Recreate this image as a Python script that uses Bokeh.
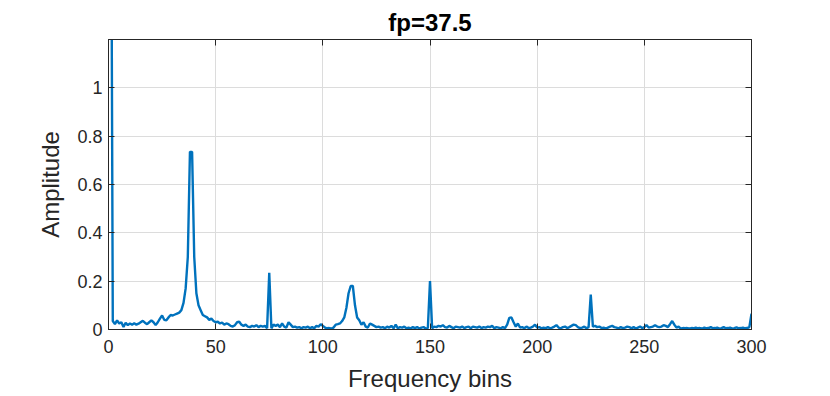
from bokeh.plotting import figure
from bokeh.models import Range1d, LinearAxis, FixedTicker
from bokeh.embed import file_html
from bokeh.resources import INLINE

title_text = "fp=37.5"
x_label = "Frequency bins"
y_label = "Amplitude"
x_ticks = [0, 50, 100, 150, 200, 250, 300]
y_ticks = [0, 0.2, 0.4, 0.6, 0.8, 1]
y_tick_labels = ["0", "0.2", "0.4", "0.6", "0.8", "1"]
bins = list(range(1, 301))
amplitude = [
    2.5, 0.035, 0.022, 0.038, 0.025, 0.03, 0.01, 0.028, 0.018, 0.025,
    0.02, 0.026, 0.02, 0.024, 0.03, 0.036, 0.028, 0.022, 0.03, 0.038,
    0.03, 0.018, 0.03, 0.045, 0.058, 0.04, 0.038, 0.05, 0.06, 0.058,
    0.062, 0.066, 0.07, 0.08, 0.11, 0.17, 0.3, 0.735, 0.735, 0.3,
    0.15, 0.1, 0.08, 0.06, 0.055, 0.05, 0.04, 0.045, 0.035, 0.03,
    0.032, 0.025, 0.028, 0.02, 0.025, 0.022, 0.015, 0.012, 0.018, 0.03,
    0.032, 0.02, 0.015, 0.02, 0.012, 0.01, 0.015, 0.012, 0.018, 0.01,
    0.015, 0.012, 0.015, 0.005, 0.235, 0.005, 0.02, 0.015, 0.02, 0.01,
    0.025, 0.012, 0.008, 0.03, 0.02, 0.01, 0.012, 0.008, 0.01, 0.005,
    0.01, 0.008, 0.012, 0.005, 0.01, 0.005, 0.015, 0.012, 0.022, 0.015,
    0.008, 0.005, 0.006, 0.004, 0.008, 0.02, 0.022, 0.025, 0.035, 0.05,
    0.09, 0.15, 0.18, 0.18, 0.1, 0.05, 0.038, 0.02, 0.03, 0.012,
    0.008, 0.025, 0.02, 0.015, 0.01, 0.012, 0.008, 0.01, 0.005, 0.012,
    0.008, 0.015, 0.005, 0.02, 0.005, 0.01, 0.008, 0.012, 0.005, 0.008,
    0.005, 0.01, 0.006, 0.01, 0.004, 0.008, 0.01, 0.004, 0.006, 0.2,
    0.005, 0.012, 0.01, 0.015, 0.012, 0.018, 0.01, 0.008, 0.015, 0.01,
    0.005, 0.012, 0.01, 0.008, 0.012, 0.006, 0.01, 0.012, 0.005, 0.012,
    0.01, 0.008, 0.012, 0.006, 0.01, 0.008, 0.012, 0.01, 0.015, 0.005,
    0.01, 0.008, 0.005, 0.01, 0.006, 0.02, 0.048, 0.05, 0.03, 0.012,
    0.025, 0.008, 0.01, 0.005, 0.012, 0.006, 0.008, 0.012, 0.02, 0.008,
    0.01, 0.005, 0.008, 0.006, 0.01, 0.005, 0.008, 0.012, 0.018, 0.008,
    0.005, 0.01, 0.012, 0.006, 0.01, 0.015, 0.02, 0.018, 0.01, 0.006,
    0.008, 0.012, 0.005, 0.01, 0.145, 0.012, 0.015, 0.01, 0.012, 0.006,
    0.008, 0.004, 0.008, 0.012, 0.015, 0.01, 0.008, 0.005, 0.01, 0.006,
    0.008, 0.012, 0.01, 0.005, 0.01, 0.004, 0.008, 0.012, 0.006, 0.01,
    0.018, 0.008, 0.01, 0.012, 0.018, 0.012, 0.01, 0.012, 0.018, 0.015,
    0.01, 0.022, 0.035, 0.02, 0.008, 0.012, 0.004, 0.006, 0.005, 0.006,
    0.004, 0.006, 0.005, 0.008, 0.005, 0.006, 0.004, 0.008, 0.005, 0.006,
    0.01, 0.005, 0.006, 0.008, 0.004, 0.006, 0.01, 0.005, 0.006, 0.008,
    0.004, 0.006, 0.009, 0.005, 0.006, 0.008, 0.005, 0.006, 0.01, 0.065,
]
assert len(amplitude) == len(bins)

FONT = "Liberation Sans"
DARK = "#262626"

p = figure(width=822, height=396, output_backend="svg", toolbar_location=None,
           x_range=Range1d(0, 300), y_range=Range1d(0, 1.2),
           min_border_left=108, min_border_right=71, min_border_top=39,
           min_border_bottom=67)
p.title.text = title_text
p.title.align = "center"
p.title.text_font = FONT
p.title.text_font_size = "24px"
p.title.text_font_style = "bold"
p.title.text_color = "#000000"
p.title.standoff = 7

p.line(bins, amplitude, line_color="#0072BD", line_width=2.4)

p.outline_line_color = DARK
p.outline_line_width = 1
p.background_fill_color = "white"
p.border_fill_color = "white"

for ax in (p.xaxis[0], p.yaxis[0]):
    ax.axis_line_color = DARK
    ax.major_tick_line_color = DARK
    ax.major_tick_in = 6
    ax.major_tick_out = 0
    ax.minor_tick_line_color = None
    ax.major_label_text_font = FONT
    ax.major_label_text_font_size = "18px"
    ax.major_label_text_color = DARK
    ax.axis_label_text_font = FONT
    ax.axis_label_text_font_size = "24px"
    ax.axis_label_text_font_style = "normal"
    ax.axis_label_text_color = DARK

p.xaxis[0].ticker = FixedTicker(ticks=x_ticks)
p.yaxis[0].ticker = FixedTicker(ticks=y_ticks)
p.yaxis[0].major_label_overrides = {t: l for t, l in zip(y_ticks, y_tick_labels)}
p.xaxis[0].axis_label = x_label
p.yaxis[0].axis_label = y_label
p.xaxis[0].major_label_standoff = 10
p.xaxis[0].axis_label_standoff = 9
p.yaxis[0].major_label_standoff = 6
p.yaxis[0].axis_label_standoff = 10

top_ax = LinearAxis(ticker=FixedTicker(ticks=x_ticks), major_label_text_font_size="1px",
                    major_label_text_color=None,
                    major_tick_in=6, major_tick_out=0, minor_tick_line_color=None,
                    axis_line_color=DARK, major_tick_line_color=DARK,
                    major_label_standoff=0)
right_ax = LinearAxis(ticker=FixedTicker(ticks=y_ticks), major_label_text_font_size="1px",
                      major_label_text_color=None,
                      major_tick_in=6, major_tick_out=0, minor_tick_line_color=None,
                      axis_line_color=DARK, major_tick_line_color=DARK,
                      major_label_standoff=0)
p.add_layout(top_ax, "above")
p.add_layout(right_ax, "right")

p.xgrid.ticker = FixedTicker(ticks=x_ticks)
p.ygrid.ticker = FixedTicker(ticks=y_ticks)
p.grid.grid_line_color = "#dcdcdc"
p.grid.grid_line_width = 1

open("out.html", "w").write(file_html(p, INLINE))
